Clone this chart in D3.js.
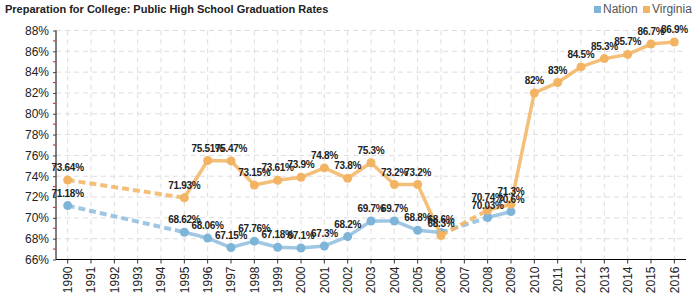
<!DOCTYPE html>
<html>
<head>
<meta charset="utf-8">
<script src="https://cdn.jsdelivr.net/npm/d3@7"></script>
<style>
  body { margin: 0; background: #fff; font-family: Arial, "Liberation Sans", sans-serif; }
  svg { display: block; }
</style>
</head>
<body>
<svg id="chart" width="700" height="300"></svg>
<script>
  years = ['1990','1991','1992','1993','1994','1995','1996','1997','1998','1999','2000','2001','2002','2003',
           '2004','2005','2006','2007','2008','2009','2010','2011','2012','2013','2014','2015','2016']
  nation = [71.18, null, null, null, null, 68.62, 68.06, 67.15, 67.76, 67.18, 67.1, 67.3, 68.2, 69.7,
            69.7, 68.8, 68.6, null, 70.03, 70.6, null, null, null, null, null, null, null]
  virginia = [73.64, null, null, null, null, 71.93, 75.51, 75.47, 73.15, 73.61, 73.9, 74.8, 73.8, 75.3,
              73.2, 73.2, 68.3, null, 70.74, 71.3, 82, 83, 84.5, 85.3, 85.7, 86.7, 86.9]
  nationLabels = ['71.18%','','','','','68.62%','68.06%','67.15%','67.76%','67.18%','67.1%','67.3%','68.2%','69.7%',
                  '69.7%','68.8%','68.6%','','70.03%','70.6%','','','','','','','']
  virginiaLabels = ['73.64%','','','','','71.93%','75.51%','75.47%','73.15%','73.61%','73.9%','74.8%','73.8%','75.3%',
                    '73.2%','73.2%','68.3%','','70.74%','71.3%','82%','83%','84.5%','85.3%','85.7%','86.7%','86.9%']
  yTicks = [66, 68, 70, 72, 74, 76, 78, 80, 82, 84, 86, 88]
  yMinor = [67, 69, 71, 73, 75, 77, 79, 81, 83, 85, 87]

  svg = d3.select('#chart')
  margin = {top: 30.5, right: 14, bottom: 40.5, left: 56}
  width = 700 - margin.left - margin.right
  height = 300 - margin.top - margin.bottom

  xScale = d3.scaleBand().domain(years).range([0, width])
  yScale = d3.scaleLinear().domain([66, 88]).range([height, 0])
  xc = function(y){ return xScale(y) + xScale.bandwidth()/2 }

  svg.append('text')
    .attr('x', 5).attr('y', 13)
    .text('Preparation for College: Public High School Graduation Rates')
    .style('font-size', '11px').style('font-weight', 'bold').style('fill', '#222')

  // legend
  legend = [{name: 'Nation', color: '#7fb4d9', x: 594}, {name: 'Virginia', color: '#f2b462', x: 643}]
  for (l of legend) {
    svg.append('rect').attr('x', l.x).attr('y', 6).attr('width', 7).attr('height', 7).attr('fill', l.color)
    svg.append('text').attr('x', l.x + 9).attr('y', 13).text(l.name)
      .style('font-size', '12px').style('fill', '#555')
  }

  plot = svg.append('g').attr('transform', 'translate(' + margin.left + ',' + margin.top + ')')

  // grid
  plot.selectAll('.hgrid').data(yTicks).enter().append('line')
    .attr('x1', 0).attr('x2', width)
    .attr('y1', function(d){ return yScale(d) }).attr('y2', function(d){ return yScale(d) })
    .style('stroke', '#ddd').style('stroke-dasharray', '5,4')
  plot.selectAll('.vgrid').data(years).enter().append('line')
    .attr('x1', function(d){ return xc(d) }).attr('x2', function(d){ return xc(d) })
    .attr('y1', 0).attr('y2', height)
    .style('stroke', '#ddd').style('stroke-dasharray', '5,4')

  // axes
  yAxis = plot.append('g')
    .call(d3.axisLeft(yScale).tickValues(yTicks).tickSize(3).tickPadding(4).tickFormat(function(n){ return n + '%' }))
  yAxis.selectAll('text').style('font-size', '12px').style('fill', '#222').style('font-family', 'Arial, "Liberation Sans", sans-serif')
  yAxis.selectAll('.tick line').attr('stroke', '#444')
  yAxis.select('.domain').attr('stroke', '#000').attr('d', 'M0,0V' + height)
  plot.selectAll('.minor').data(yMinor).enter().append('line')
    .attr('x1', -3).attr('x2', 0)
    .attr('y1', function(d){ return yScale(d) }).attr('y2', function(d){ return yScale(d) })
    .style('stroke', '#e33').style('stroke-width', 1.2)

  xAxis = plot.append('g').attr('transform', 'translate(0,' + height + ')')
    .call(d3.axisBottom(xScale).tickSize(4).tickPadding(4))
  xAxis.select('.domain').attr('stroke', '#000').attr('d', 'M0,0H' + width)
  xAxis.selectAll('.tick line').attr('stroke', '#333')
  xAxis.selectAll('text')
    .attr('transform', 'rotate(-90)')
    .attr('x', -7).attr('y', 0).attr('dy', '0.35em')
    .style('text-anchor', 'end')
    .style('font-size', '12px').style('fill', '#222').style('font-family', 'Arial, "Liberation Sans", sans-serif')

  function drawSeries(values, labels, color, opacity) {
    pts = years.map(function(y, i){ return {year: y, v: values[i], label: labels[i]} })
    line = d3.line().defined(function(d){ return d.v != null })
      .x(function(d){ return xc(d.year) }).y(function(d){ return yScale(d.v) })
    plot.append('path').datum(pts)
      .attr('d', line).attr('fill', 'none')
      .attr('stroke', color).attr('stroke-width', 3.5).attr('stroke-opacity', opacity)
      .attr('stroke-linejoin', 'round')
    // dashed segments across gaps
    defined = pts.filter(function(d){ return d.v != null })
    for (i = 1; i < defined.length; i++) {
      a = defined[i-1]; b = defined[i]
      if (years.indexOf(b.year) - years.indexOf(a.year) > 1) {
        plot.append('path').datum([a, b])
          .attr('d', d3.line().x(function(d){ return xc(d.year) }).y(function(d){ return yScale(d.v) }))
          .attr('fill', 'none').attr('stroke', color).attr('stroke-width', 4)
          .attr('stroke-opacity', opacity).attr('stroke-dasharray', '7,4')
      }
    }
    plot.selectAll(null).data(defined).enter().append('circle')
      .attr('cx', function(d){ return xc(d.year) }).attr('cy', function(d){ return yScale(d.v) })
      .attr('r', 4.5).attr('fill', color)
    return defined
  }

  nPts = drawSeries(nation, nationLabels, '#7fb4d9', 0.75)
  vPts = drawSeries(virginia, virginiaLabels, '#f2b462', 0.85)

  for (set of [nPts, vPts]) {
    plot.selectAll(null).data(set).enter().append('text')
      .attr('x', function(d){ return xc(d.year) }).attr('y', function(d){ return yScale(d.v) - 9 })
      .attr('text-anchor', 'middle')
      .text(function(d){ return d.label })
      .style('font-size', '10px').style('font-weight', 'bold').style('fill', '#222')
      .style('letter-spacing', '-0.3px')
  }
</script>
</body>
</html>
